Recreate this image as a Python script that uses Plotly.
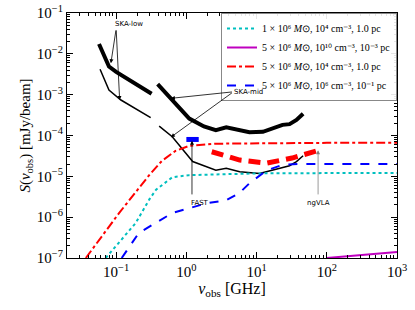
import plotly.graph_objects as go

# ---------------- data ----------------
# model curves
nu_cyan = [0.071, 0.1, 0.19, 0.3, 0.37, 0.63, 1.1, 3, 10, 100, 1000]
s_cyan = [1e-7, 2e-7, 7.2e-7, 2.8e-6, 4.7e-6, 9.5e-6, 1.07e-5, 1.12e-5, 1.18e-5, 1.2e-5, 1.2e-5]

nu_mag = [100, 200, 500, 1000]
s_mag = [1e-7, 1.1e-7, 1.25e-7, 1.4e-7]

nu_red = [0.037, 0.11, 0.3, 0.45, 0.7, 1.1, 2.5, 10, 100, 1000]
s_red = [1e-7, 1.26e-6, 1.1e-5, 2.4e-5, 4.2e-5, 5.6e-5, 6.3e-5, 6.5e-5, 6.6e-5, 6.6e-5]

nu_blue = [0.12, 0.21, 0.63, 1.95, 3.7, 5.7, 8, 14, 23, 40, 1000]
s_blue = [1e-7, 4.1e-7, 1.26e-6, 2.2e-6, 2.6e-6, 3.9e-6, 6.9e-6, 1.4e-5, 1.9e-5, 2e-5, 2e-5]

# telescope sensitivities
nu_skalow_thick = [0.057, 0.079, 0.1, 0.155, 0.21, 0.32]
s_skalow_thick = [1.74e-2, 4.9e-3, 3.6e-3, 2.3e-3, 1.58e-3, 1.05e-3]
nu_skalow_thin = [0.059, 0.079, 0.117, 0.17, 0.31]
s_skalow_thin = [4.2e-3, 1.29e-3, 7.4e-4, 5.0e-4, 2.75e-4]

nu_skamid_thick = [0.39, 0.63, 1.1, 1.78, 2.63, 3.7, 5.6, 7.9, 12.3, 17, 23.4, 29.5, 37, 46]
s_skamid_thick = [1.82e-3, 7.4e-4, 2.6e-4, 1.66e-4, 1.35e-4, 1.58e-4, 1.32e-4, 1.2e-4,
                  1.23e-4, 1.48e-4, 1.82e-4, 1.9e-4, 2.4e-4, 3.4e-4]
nu_skamid_thin = [0.41, 0.63, 1.23, 2.63, 3.7, 5.75, 11, 19, 29.5, 37, 46]
s_skamid_thin = [1.7e-4, 9.3e-5, 2.3e-5, 1.41e-5, 1.58e-5, 1.29e-5, 1.17e-5, 1.48e-5,
                 1.82e-5, 2.3e-5, 3.2e-5]

nu_ngvla = [2.3, 5.75, 13.8, 32, 79]
s_ngvla = [4e-5, 2.5e-5, 2.1e-5, 2.8e-5, 4.4e-5]

nu_fast = [1.0, 1.5]
s_fast = [8e-5, 8e-5]

legend_labels = [
    "1 × 10⁶ <i>M</i>⊙, 10⁴ cm⁻³, 1.0 pc",
    "5 × 10⁶ <i>M</i>⊙, 10¹⁰ cm⁻³, 10⁻³ pc",
    "5 × 10⁶ <i>M</i>⊙, 10⁴ cm⁻³, 1.0 pc",
    "5 × 10⁶ <i>M</i>⊙, 10⁶ cm⁻³, 10⁻¹ pc",
]

x_ticks = [0.1, 1, 10, 100, 1000]
x_ticktext = ["10<sup>−1</sup>", "10<sup>0</sup>", "10<sup>1</sup>", "10<sup>2</sup>", "10<sup>3</sup>"]
y_ticks = [1e-7, 1e-6, 1e-5, 1e-4, 1e-3, 1e-2, 1e-1]
y_ticktext = ["10<sup>−7</sup>", "10<sup>−6</sup>", "10<sup>−5</sup>", "10<sup>−4</sup>",
              "10<sup>−3</sup>", "10<sup>−2</sup>", "10<sup>−1</sup>"]

# ---------------- figure ----------------
fig = go.Figure()

def add_line(x, y, color, width, dash="solid", name=None, show=False):
    fig.add_trace(go.Scatter(x=x, y=y, mode="lines", name=name, showlegend=show,
                             line=dict(color=color, width=width, dash=dash)))

# sensitivity curves
add_line(nu_skalow_thick, s_skalow_thick, "black", 4)
add_line(nu_skalow_thin, s_skalow_thin, "black", 1.5)
add_line(nu_skamid_thick, s_skamid_thick, "black", 4)
add_line(nu_skamid_thin, s_skamid_thin, "black", 1.5)
add_line(nu_ngvla, s_ngvla, "red", 5, dash="12px,7px")
add_line(nu_fast, s_fast, "blue", 5)

# model curves
add_line(nu_cyan, s_cyan, "#00BFBF", 2, "dot", legend_labels[0], True)
add_line(nu_mag, s_mag, "#BF00BF", 2, "solid", legend_labels[1], True)
add_line(nu_red, s_red, "red", 2, "dashdot", legend_labels[2], True)
add_line(nu_blue, s_blue, "blue", 2, "dash", legend_labels[3], True)

ann_font = dict(family="DejaVu Sans", size=7, color="black")

def arrow(x, y, ax, ay, color="black"):
    fig.add_annotation(x=x, y=y, ax=ax, ay=ay, xref="x", yref="y", axref="x", ayref="y",
                       text="", showarrow=True, arrowhead=2, arrowsize=1, arrowwidth=0.8,
                       arrowcolor=color)

def label(x, y, text):
    fig.add_annotation(x=x, y=y, xref="x", yref="y", text=text, showarrow=False, font=ann_font)

# SKA-low
label(-0.81, -1.27, "SKA-low")
arrow(-1.075, -2.23, -1.0, -1.39)
arrow(-0.95, -3.13, -1.0, -1.39)
# SKA-mid
label(0.89, -2.93, "SKA-mid")
arrow(-0.22, -3.09, 0.67, -2.93)
arrow(-0.22, -4.04, 0.67, -2.93)
# FAST
label(0.2, -5.66, "FAST")
arrow(0.08, -4.13, 0.08, -5.48)
# ngVLA
label(1.876, -5.66, "ngVLA")
arrow(1.876, -4.36, 1.876, -5.48, color="gray")

minor_x = [m * 10 ** e for e in range(-2, 3) for m in range(2, 10)]
minor_y = [m * 10 ** e for e in range(-8, -1) for m in range(2, 10)]

axis_common = dict(type="log", showgrid=False, zeroline=False, showline=True, automargin=False,
                   linecolor="black", linewidth=1, mirror="allticks", ticks="inside",
                   ticklen=6, tickcolor="black", ticklabeloverflow="allow",
                   tickfont=dict(family="Liberation Serif", size=15, color="black"))

fig.update_xaxes(range=[-1.7, 3], tickvals=x_ticks, ticktext=x_ticktext,
                 minor=dict(tickvals=minor_x, ticks="inside", ticklen=3, tickcolor="black"),
                 title=dict(text="<i>ν</i><sub>obs</sub> [GHz]", standoff=2,
                            font=dict(family="Liberation Serif", size=16, color="black")),
                 **axis_common)
fig.update_yaxes(range=[-7, -1], tickvals=y_ticks, ticktext=y_ticktext,
                 minor=dict(tickvals=minor_y, ticks="inside", ticklen=3, tickcolor="black"),
                 title=dict(text="<i>S</i>(<i>ν</i><sub>obs</sub>) [mJy/beam]", standoff=2,
                            font=dict(family="Liberation Serif", size=15, color="black")),
                 **axis_common)

fig.update_layout(
    template="none",
    width=415, height=310,
    margin=dict(l=67, r=18, t=13, b=52, autoexpand=False),
    plot_bgcolor="white", paper_bgcolor="white",
    legend=dict(x=1, y=1, xanchor="right", yanchor="top", bgcolor="rgba(255,255,255,0.9)",
                bordercolor="#888888", borderwidth=1,
                font=dict(family="Liberation Serif", size=10, color="black"),
                tracegroupgap=0, itemwidth=30),
)

fig.write_html("out.html", config={"displayModeBar": False},
               post_script="document.body.style.margin='0px';document.body.style.overflow='hidden';")
